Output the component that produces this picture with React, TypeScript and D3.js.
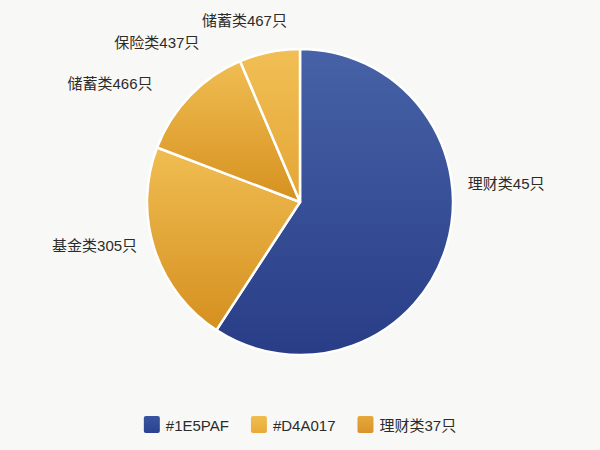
import { useEffect, useRef } from 'react'
import * as d3 from 'd3'

// slice shares (% of circle)
const sliceNames = ['理财类', '基金类', '储蓄类', '保险类']
const sliceValues = [59.2, 21.6, 12.8, 6.4]

// outside labels as printed in the chart
const labelTexts = ['理财类45只', '基金类305只', '储蓄类466只', '保险类437只', '储蓄类467只']

// legend entries
const legendTexts = ['#1E5PAF', '#D4A017', '理财类37只']

const W = 600
const H = 450

export default function App() {
  const svgRef = useRef<SVGSVGElement>(null)

  useEffect(() => {
    if (!svgRef.current) return
    const svg = d3.select(svgRef.current)
    svg.selectAll('*').remove()

    const cx = 300
    const cy = 202
    const radius = 153
    const font = '"Liberation Sans", "Noto Sans CJK SC", sans-serif'

    svg.append('rect').attr('width', W).attr('height', H).attr('fill', '#f8f8f6')

    const defs = svg.append('defs')
    const grads: [string, string, string][] = [
      ['g-blue', '#4762a7', '#283d86'],
      ['g-gold', '#f0bd52', '#d5901f'],
      ['g-gold2', '#f0bd52', '#d6911f'],
      ['g-gold3', '#f1bf55', '#e4a535'],
      ['g-sw-blue', '#3a559f', '#2a4290'],
      ['g-sw-gold', '#f1bd4f', '#e8aa3a'],
      ['g-sw-gold2', '#e6a83a', '#d8942a'],
    ]
    grads.forEach(([id, c1, c2]) => {
      const lg = defs.append('linearGradient').attr('id', id)
        .attr('x1', 0).attr('y1', 0).attr('x2', 0).attr('y2', 1)
      lg.append('stop').attr('offset', '0%').attr('stop-color', c1)
      lg.append('stop').attr('offset', '100%').attr('stop-color', c2)
    })
    const sliceFill = ['url(#g-blue)', 'url(#g-gold)', 'url(#g-gold2)', 'url(#g-gold3)']

    const pie = d3.pie<number>().sort(null).value((d) => d)
    const arcs = pie(sliceValues)
    const arc = d3.arc<d3.PieArcDatum<number>>().innerRadius(0).outerRadius(radius)

    const g = svg.append('g').attr('transform', `translate(${cx},${cy})`)
    g.selectAll('path')
      .data(arcs)
      .join('path')
      .attr('d', arc)
      .attr('fill', (_, i) => sliceFill[i])
      .attr('stroke', '#ffffff')
      .attr('stroke-width', 2.5)
      .attr('stroke-linejoin', 'round')
      .append('title')
      .text((_, i) => sliceNames[i])

    // label placement (angle in degrees clockwise from top, distance from centre)
    const labelAt: [number, number][] = [
      [85, 207],
      [258, 210],
      [302, 224],
      [318, 214],
      [343, 190],
    ]
    const labelArc = d3.arc()
    labelTexts.forEach((t, i) => {
      const [deg, r] = labelAt[i]
      const a = (deg * Math.PI) / 180
      const [x, y] = labelArc.centroid({ innerRadius: r, outerRadius: r, startAngle: a, endAngle: a } as any)
      g.append('text')
        .attr('x', x)
        .attr('y', y)
        .attr('text-anchor', 'middle')
        .attr('dominant-baseline', 'central')
        .style('font-family', font)
        .style('font-size', '15px')
        .style('fill', '#2b2b2b')
        .text(t)
    })

    // legend
    const swatch = ['url(#g-sw-blue)', 'url(#g-sw-gold)', 'url(#g-sw-gold2)']
    const legend = svg.append('g')
    const items = legendTexts.map((t, i) => {
      const item = legend.append('g')
      item.append('rect')
        .attr('width', 16).attr('height', 17).attr('rx', 2)
        .attr('fill', swatch[i])
      const txt = item.append('text')
        .attr('x', 22).attr('y', 9)
        .attr('dominant-baseline', 'central')
        .style('font-family', font)
        .style('font-size', '15px')
        .style('fill', '#2b2b2b')
        .text(t)
      const w = 22 + (txt.node() as SVGTextElement).getComputedTextLength()
      return { item, w }
    })
    const gap = 22
    const total = d3.sum(items, (d) => d.w) + gap * (items.length - 1)
    let x = W / 2 - total / 2
    items.forEach(({ item, w }) => {
      item.attr('transform', `translate(${x},416)`)
      x += w + gap
    })
  }, [])

  return (
    <svg
      ref={svgRef}
      width={W}
      height={H}
      style={{ position: 'fixed', left: 0, top: 0, display: 'block' }}
    />
  )
}
